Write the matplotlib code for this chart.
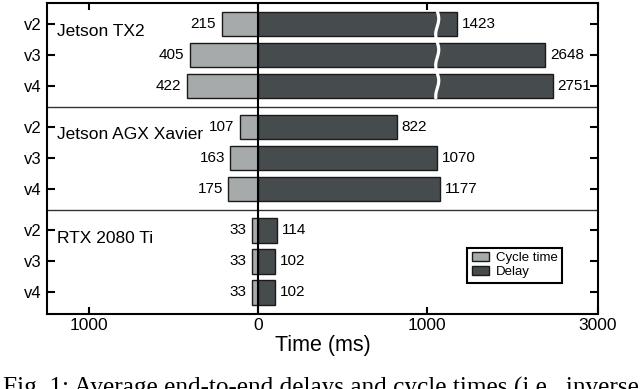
import numpy as np
import matplotlib
matplotlib.use("Agg")
import matplotlib.pyplot as plt
from matplotlib.patches import Patch

plt.rcParams['font.family'] = ['Liberation Sans', 'DejaVu Sans']

models = ['v2', 'v3', 'v4']
devices = ['Jetson TX2', 'Jetson AGX Xavier', 'RTX 2080 Ti']
cycle_tx2 = [215, 405, 422]
delay_tx2 = [1423, 2648, 2751]
cycle_xavier = [107, 163, 175]
delay_xavier = [822, 1070, 1177]
cycle_rtx = [33, 33, 33]
delay_rtx = [114, 102, 102]
xtick_values = [-1000, 0, 1000, 3000]
xtick_labels = ['1000', '0', '1000', '3000']

cycles = [cycle_tx2, cycle_xavier, cycle_rtx]
delays = [delay_tx2, delay_xavier, delay_rtx]

# piecewise-linear broken axis scale
bx = np.array([-1e5, 1060, 1143, 2751, 3000, 1e5])
bu = np.array([-1e5, 1060, 1061, 1061 + (2751 - 1143) * 0.4245, 2012, 2012 + 97000])

def fwd(x):
    return np.interp(x, bx, bu)

def inv(u):
    return np.interp(u, bu, bx)

C_LIGHT = '#a6aaab'
C_DARK = '#464b4e'

fig = plt.figure(figsize=(6.4, 3.89), dpi=100)
ax = fig.add_axes([47/640, 1 - 314/389, 551/640, 311/389])
ax.set_xscale('function', functions=(fwd, inv))

group_offsets = [0, 3.33, 6.67]
yticks = []
yticklabels = []
for g, (dev, cyc, dly) in enumerate(zip(devices, cycles, delays)):
    ys = [group_offsets[g] + i for i in range(len(models))]
    ax.barh(ys, [-c for c in cyc], height=0.8, color=C_LIGHT, edgecolor='#1a1a1a', linewidth=1.0, zorder=2)
    ax.barh(ys, dly, height=0.8, color=C_DARK, edgecolor='#1a1a1a', linewidth=1.0, zorder=2)
    for y, c, d in zip(ys, cyc, dly):
        ax.annotate(str(c), xy=(-c, y), xytext=(-4, 0), textcoords='offset points',
                    ha='right', va='center', fontsize=11, zorder=5)
        ax.annotate(str(d), xy=(d, y), xytext=(3.5, 0), textcoords='offset points',
                    ha='left', va='center', fontsize=11, zorder=5)
    ax.text(0.018, ys[0] + 0.25, dev, transform=ax.get_yaxis_transform(),
            ha='left', va='center', fontsize=12.5)
    yticks += ys
    yticklabels += models

# group separators
for sep in [2.665, 6.0]:
    ax.axhline(sep, color='#333333', linewidth=1.0, zorder=1)

# zero line
ax.axvline(0, color='black', linewidth=1.5, zorder=4)

# break marks (white wave) over TX2 delay bars
yy = np.linspace(-0.42, 2.42, 200)
uu = 1060.5 + 9 * np.sin(2 * np.pi * (yy + 0.42) / 1.0)
ax.plot(inv(uu), yy, color='white', linewidth=2.3, zorder=3, solid_capstyle='butt')

ax.set_ylim(9.37, -0.68)
ax.set_xlim(-1249, 3000)
ax.set_yticks(yticks)
ax.set_yticklabels(yticklabels, fontsize=12)
ax.set_xticks(xtick_values)
ax.set_xticklabels(xtick_labels, fontsize=12.5)
ax.tick_params(axis='x', direction='in', top=True, length=5, width=1.5, pad=3)
ax.tick_params(axis='y', direction='in', right=True, length=6, width=1.5, pad=4)
for s in ax.spines.values():
    s.set_linewidth(1.5)

ax.set_xlabel('Time (ms)', fontsize=15.5, labelpad=1)

leg = ax.legend(handles=[Patch(facecolor=C_LIGHT, edgecolor='#1a1a1a', linewidth=1.0, label='Cycle time'),
                         Patch(facecolor=C_DARK, edgecolor='#1a1a1a', linewidth=1.0, label='Delay')],
                loc='lower right', bbox_to_anchor=(0.935, 0.1), fontsize=9.5, fancybox=False,
                framealpha=1, edgecolor='black', handlelength=1.3, handleheight=0.65,
                handletextpad=0.5, borderpad=0.35, labelspacing=0.15, borderaxespad=0)
leg.get_frame().set_linewidth(1.5)

fig.text(3/640, 1 - 395/389, 'Fig. 1: Average end-to-end delays and cycle times (i.e., inverse',
         fontsize=18.2, family='Liberation Serif', ha='left', va='baseline')

fig.savefig('out.png', dpi=100)
